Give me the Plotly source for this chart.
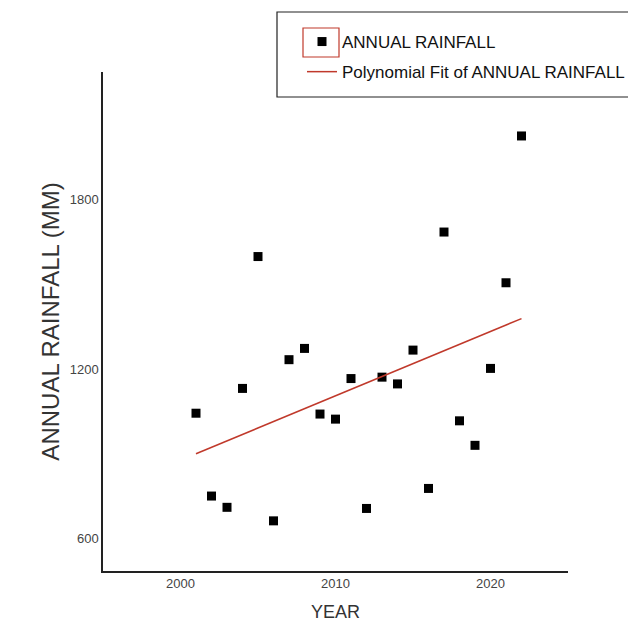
import numpy as np
import plotly.graph_objects as go

years = [2001, 2002, 2003, 2004, 2005, 2006, 2007, 2008, 2009, 2010, 2011,
         2012, 2013, 2014, 2015, 2016, 2017, 2018, 2019, 2020, 2021, 2022]
rainfall = [1043, 749, 709, 1131, 1599, 661, 1233, 1273, 1040, 1022, 1166,
            705, 1171, 1147, 1267, 776, 1686, 1016, 929, 1202, 1506, 2027]
x_ticks = [2000, 2010, 2020]
y_ticks = [600, 1200, 1800]

coef = np.polyfit(years, rainfall, 1)
fit_x = [years[0], years[-1]]
fit_y = list(np.polyval(coef, fit_x))

# page has an 8px body margin; size figure so it ends at the window edge
OFF = 8
W, H = 636 - OFF, 622 - OFF
L, R, T, B = 103 - OFF, 68, 72 - OFF, 51
pw, ph = W - L - R, H - T - B

def px(x):  # absolute window pixel -> paper x
    return (x - OFF - L) / pw

def py(y):  # absolute window pixel -> paper y
    return (H - B - (y - OFF)) / ph

sans = "Liberation Sans, Arial, sans-serif"

fig = go.Figure()
fig.add_trace(go.Scatter(
    x=years, y=rainfall, mode="markers", name="ANNUAL RAINFALL",
    legendgroup="a",
    marker=dict(symbol="square", size=9, color="black"),
))
fig.add_trace(go.Scatter(
    x=fit_x, y=fit_y, mode="lines", name="Polynomial Fit of ANNUAL RAINFALL",
    legendgroup="b",
    line=dict(color="#c0392b", width=1.5),
))

fig.update_layout(
    template="none",
    width=W, height=H,
    margin=dict(l=L, r=R, t=T, b=B, pad=0, autoexpand=False),
    plot_bgcolor="white", paper_bgcolor="white",
    showlegend=True,
    legend=dict(
        x=px(302), y=py(24), xanchor="left", yanchor="top",
        bgcolor="rgba(0,0,0,0)", borderwidth=0,
        font=dict(family=sans, size=17, color="#111"),
        tracegroupgap=5,
    ),
    xaxis=dict(
        range=[1995, 2025], tickvals=x_ticks, showgrid=False, zeroline=False,
        showline=True, linecolor="#222", linewidth=1.5, ticks="",
        tickfont=dict(family=sans, size=13, color="#444444"),
        ticklabelstandoff=0, automargin=False,
        title=dict(text="YEAR", font=dict(family=sans, size=18, color="#333333"), standoff=23),
    ),
    yaxis=dict(
        range=[483, 2254], tickvals=y_ticks, showgrid=False, zeroline=False,
        showline=True, linecolor="#222", linewidth=1.5, ticks="",
        tickfont=dict(family=sans, size=13, color="#444444"),
        automargin=False,
        title=dict(text="ANNUAL RAINFALL (MM)", font=dict(family=sans, size=24, color="#333333"), standoff=3),
    ),
    shapes=[
        dict(type="rect", xref="paper", yref="paper",
             x0=px(277), x1=px(650), y0=py(97), y1=py(12),
             line=dict(color="#222", width=1.2), fillcolor="rgba(0,0,0,0)"),
        dict(type="rect", xref="paper", yref="paper",
             x0=px(303), x1=px(339), y0=py(57), y1=py(28),
             line=dict(color="#c0392b", width=1.2), fillcolor="rgba(0,0,0,0)"),
    ],
)

fig.write_html("out.html")
